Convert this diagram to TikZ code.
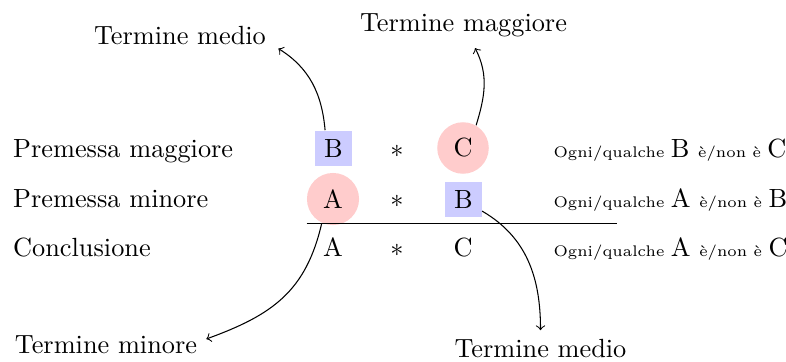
\documentclass[tikz,border=0pt]{standalone}
\usetikzlibrary{calc}
\definecolor{boxblue}{RGB}{204,204,255}
\definecolor{circred}{RGB}{255,204,204}
\newcommand{\smalltxt}{\fontsize{5.85pt}{6.5pt}\selectfont}
\begin{document}
\begin{tikzpicture}[x=0.3802pt,y=-0.3802pt,
  lbl/.style={inner sep=0pt,anchor=base west},
  term/.style={anchor=base},
  midterm/.style={fill=boxblue,inner sep=3.33pt},
  extterm/.style={circle,fill=circred,inner sep=3.33pt},
  plainlet/.style={anchor=base,inner sep=0pt},
  conn/.style={->}]
\useasboundingbox (0,0) rectangle (786,361);
% left labels
\node[lbl] (pma) at (12.7,157) {Premessa maggiore};
\node[lbl] (pmi) at (12.7,207.5) {Premessa minore};
\node[lbl] (con) at (12.7,256.5) {Conclusione};
% row 1
\node[midterm] (b1) at (333.5,148.5) {B};
\node[plainlet] (s1) at (397,157) {$*$};
\node[extterm] (c1) at (463,148) {C};
% row 2
\node[extterm] (a2) at (333,199) {A};
\node[plainlet] (s2) at (397,207.5) {$*$};
\node[midterm] (b2) at (463.5,199.5) {B};
% row 3
\node[plainlet] (a3) at (333,256.5) {A};
\node[plainlet] (s3) at (397,256.5) {$*$};
\node[plainlet] (c3) at (463,256.5) {C};
% rule
\draw (306.7,223.3) -- (616.7,223.3);
% right forms
\node[lbl] (f1) at (553,157) {\smalltxt Ogni/qualche \normalsize B \smalltxt è/non è \normalsize C};
\node[lbl] (f2) at (553,207.5) {\smalltxt Ogni/qualche \normalsize A \smalltxt è/non è \normalsize B};
\node[lbl] (f3) at (553,256.5) {\smalltxt Ogni/qualche \normalsize A \smalltxt è/non è \normalsize C};
% term labels
\node[term] (tm1) at (180,45) {Termine medio};
\node[term] (tmag) at (463.5,31.5) {Termine maggiore};
\node[term] (tmin) at (106,353) {Termine minore};
\node[term] (tm2) at (540.5,357.7) {Termine medio};
% connectors
\draw[conn] ([xshift=-3.2pt]b1.north) to[out=95,in=-32] ([shift={(1.2pt,2.3pt)}]tm1.south east);
\draw[conn] (c1.60) to[out=73,in=-63] ([xshift=4.4pt,yshift=-0.7pt]tmag.south);
\draw[conn] (a2.245) to[out=257,in=20,looseness=1.1] ([yshift=2pt]tmin.east);
\draw[conn] (b2.-32) to[out=-30,in=90] (tm2.north);
\end{tikzpicture}
\end{document}
